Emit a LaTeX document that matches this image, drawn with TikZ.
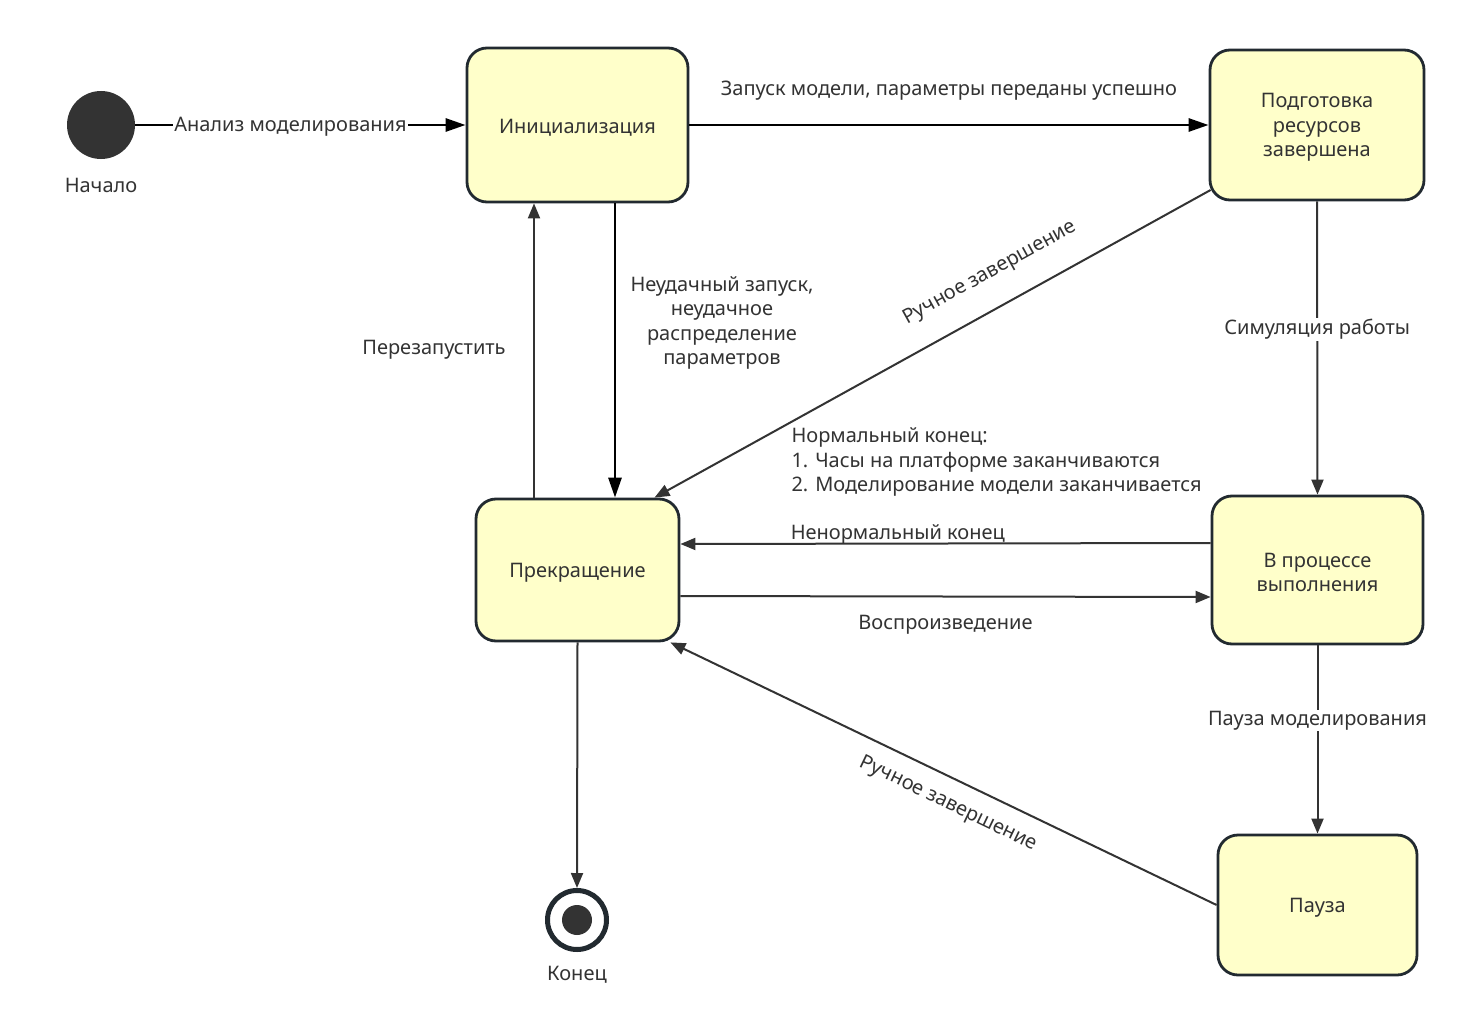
\documentclass[tikz,border=0pt]{standalone}
\usepackage{fontspec}
\setmainfont{Noto Sans}
\usetikzlibrary{arrows.meta}
\definecolor{fillY}{HTML}{FFFFCA}
\definecolor{txt}{HTML}{333333}
\definecolor{bord}{HTML}{222A30}
\newcommand\stup{\rule{0pt}{19.5pt}}
\begin{document}
\begin{tikzpicture}[x=1pt,y=-1pt,
  font=\fontsize{20}{24.5}\selectfont, text=txt,
  state/.style={draw=bord, line width=2.8pt, fill=fillY, rounded corners=20pt, align=center, inner sep=0pt},
  thickarrow/.style={draw=black, line width=2.8pt, -{Triangle[length=20pt,width=13pt]}},
  thinarrow/.style={draw=txt, line width=2pt, -{Triangle[length=15pt,width=12pt]}},
  tx/.style={yshift=-2pt},
  lbl/.style={fill=white, inner sep=1pt, tx}]
\useasboundingbox (0,0) rectangle (1465,1033);
\fill[white] (0,0) rectangle (1465,1033);

% nodes
\node[circle, fill=txt, minimum size=68pt, inner sep=0pt] (start) at (101,125) {};
\node[tx] (startl) at (101,183) {Начало};
\node[state, minimum width=221pt, minimum height=154pt] (init) at (577.5,125) {\stup Инициализация};
\node[state, minimum width=214pt, minimum height=150pt] (prep) at (1317,125) {\stup Подготовка\\ресурсов\\завершена};
\node[state, minimum width=203pt, minimum height=142pt] (term) at (577.5,570) {\stup Прекращение};
\node[state, minimum width=211pt, minimum height=148pt] (run) at (1317.5,570) {\stup В процессе\\выполнения};
\node[state, minimum width=199pt, minimum height=140pt] (pause) at (1317.5,905) {\stup Пауза};
\node[circle, draw=bord, line width=5pt, fill=white, minimum size=59pt, inner sep=0pt] (end) at (577,920) {};
\node[circle, fill=txt, minimum size=30pt, inner sep=0pt] (endc) at (577,920) {};
\node[tx] (endl) at (577,973) {Конец};

% connectors
\draw[thickarrow] (start) -- node[lbl, pos=0.47] {Анализ моделирования} (init);
\draw[thickarrow] (init) -- node[midway, yshift=36pt, tx] {Запуск модели, параметры переданы успешно} (prep);
\draw[thickarrow] ([xshift=37.5pt]init.south) -- node[pos=0.4, xshift=107pt, tx, align=center] {Неудачный запуск,\\неудачное\\распределение\\параметров} ([xshift=37.5pt]term.north);
\draw[thinarrow] ([xshift=-43.5pt]term.north) -- node[pos=0.51, xshift=-100pt, tx] {Перезапустить} ([xshift=-43.5pt]init.south);
\draw[thinarrow] ([shift={(2,65)}]prep.west) -- ([xshift=77pt]term.north);
\node[rotate=28.9, inner sep=0pt] (lblm1) at (990,273) {Ручное завершение};
\draw[thinarrow] (prep.south) -- node[lbl, pos=0.43] {Симуляция работы} (run.north);
\draw[thinarrow] ([yshift=27pt]run.west) -- node[pos=0.59, yshift=11pt, tx] {Ненормальный конец} ([yshift=26pt]term.east);
\draw[thinarrow] ([yshift=-26pt]term.east) -- node[pos=0.5, yshift=-26pt, tx] {Воспроизведение} ([yshift=-27pt]run.west);
\node[anchor=west, align=left, tx] (normal) at (788,460) {Нормальный конец:\\1. Часы на платформе заканчиваются\\2. Моделирование модели заканчивается};
\draw[thinarrow] (run.south) -- node[lbl, pos=0.39] {Пауза моделирования} (pause.north);
\draw[thinarrow] (pause.west) -- ([xshift=-10pt]term.south east);
\node[rotate=-25.7, inner sep=0pt] (lblm2) at (948,804) {Ручное завершение};
\draw[thinarrow] (term.south) -- (end.north);
\end{tikzpicture}
\end{document}
